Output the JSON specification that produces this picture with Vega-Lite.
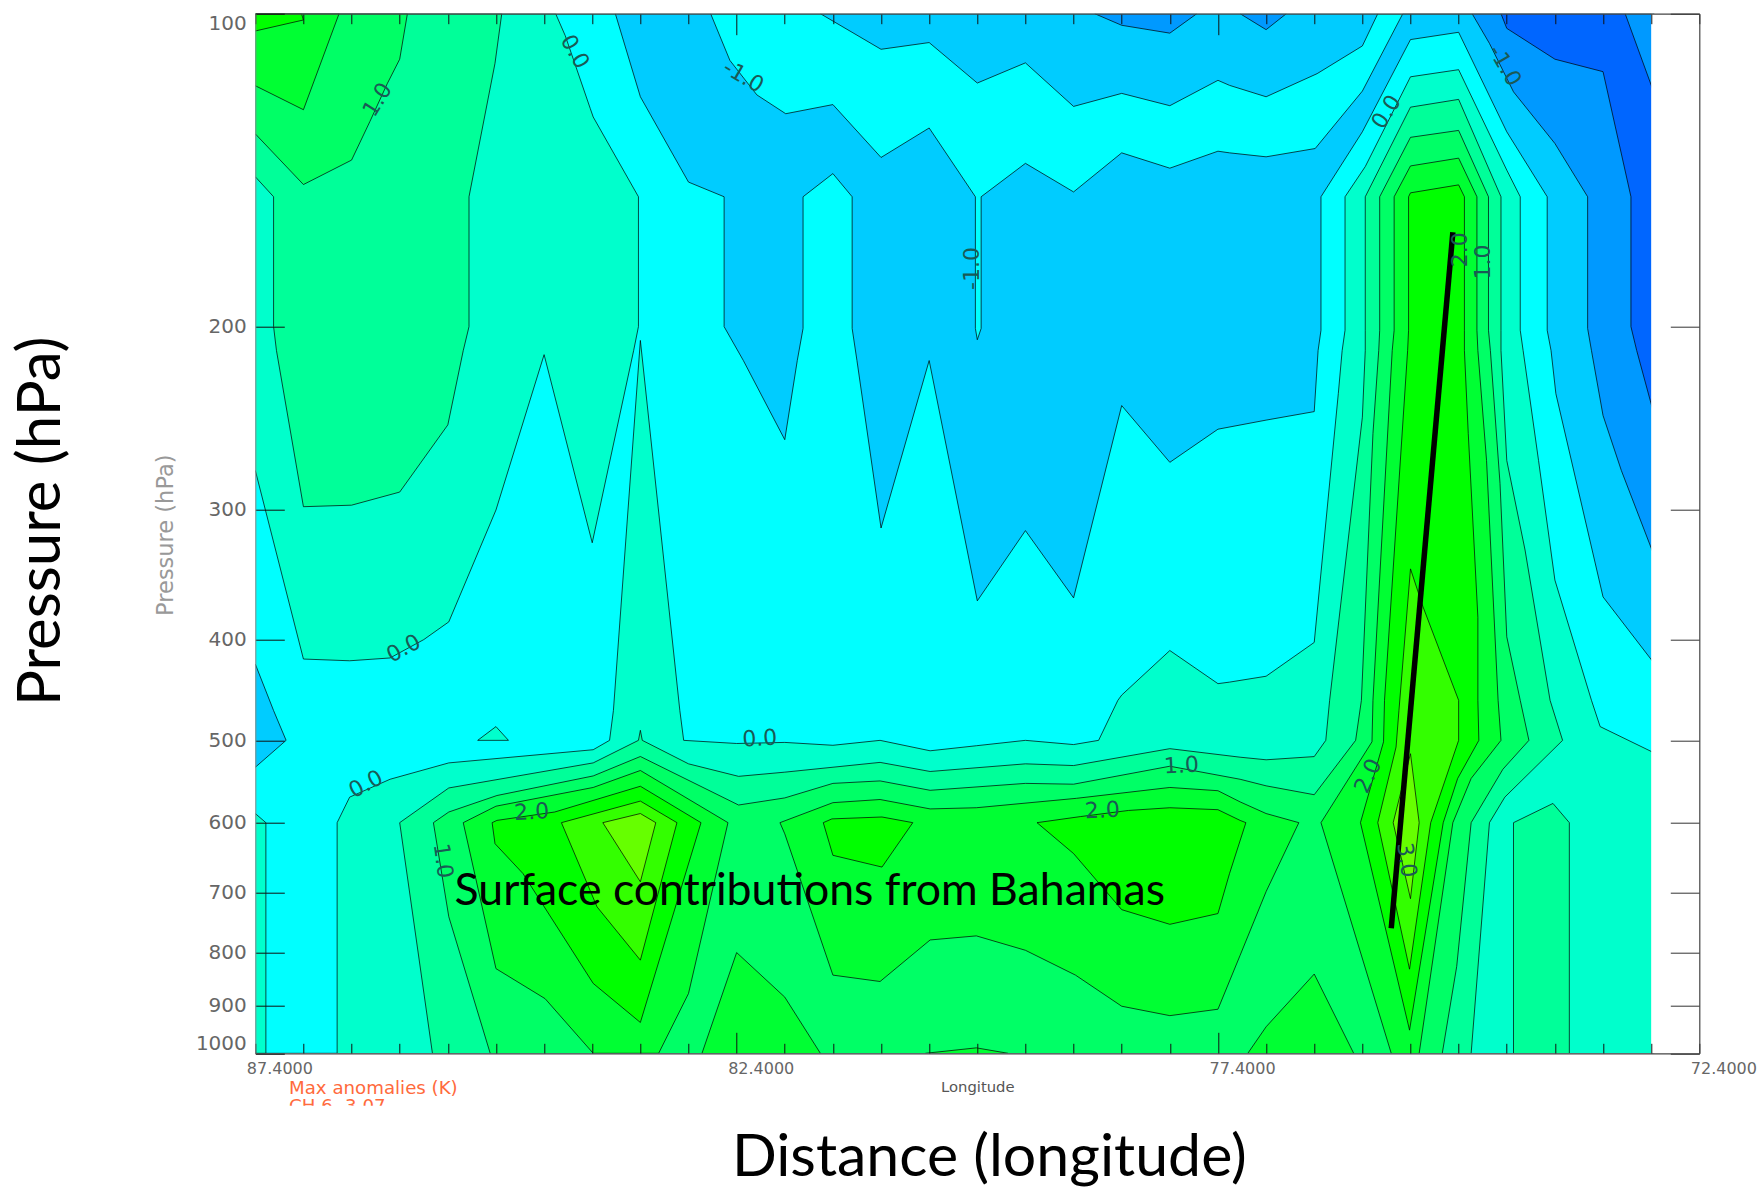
{"$schema":"https://vega.github.io/schema/vega-lite/v6.json","autosize":{"type":"none"},"padding":{"left":255.3,"top":13.7,"right":57.7,"bottom":134.7},"width":1444,"height":1039.6,"background":"white","config":{"view":{"stroke":null}},
"resolve":{"axis":{"x":"independent","y":"independent"}},
"layer":[
{"data":{"values":[
{"poly":1,"band":-0.5,"i":1,"lon":87.4,"p":100},{"poly":1,"band":-0.5,"i":2,"lon":72.87,"p":100},{"poly":1,"band":-0.5,"i":3,"lon":72.87,"p":1000},{"poly":1,"band":-0.5,"i":4,"lon":87.4,"p":1000},
{"poly":2,"band":-1,"i":1,"lon":83.66,"p":100},{"poly":2,"band":-1,"i":2,"lon":83.4,"p":120.2},{"poly":2,"band":-1,"i":3,"lon":82.9,"p":145.2},{"poly":2,"band":-1,"i":4,"lon":82.53,"p":150},{"poly":2,"band":-1,"i":5,"lon":82.53,"p":200},{"poly":2,"band":-1,"i":6,"lon":82.33,"p":215.6},{"poly":2,"band":-1,"i":7,"lon":81.9,"p":256.9},{"poly":2,"band":-1,"i":8,"lon":81.77,"p":215.6},{"poly":2,"band":-1,"i":9,"lon":81.71,"p":200.8},{"poly":2,"band":-1,"i":10,"lon":81.71,"p":150},{"poly":2,"band":-1,"i":11,"lon":81.4,"p":142.5},{"poly":2,"band":-1,"i":12,"lon":81.2,"p":150},{"poly":2,"band":-1,"i":13,"lon":81.2,"p":200.8},{"poly":2,"band":-1,"i":14,"lon":81.15,"p":215.6},{"poly":2,"band":-1,"i":15,"lon":80.9,"p":312.4},{"poly":2,"band":-1,"i":16,"lon":80.4,"p":215.6},{"poly":2,"band":-1,"i":17,"lon":79.9,"p":367.1},{"poly":2,"band":-1,"i":18,"lon":79.4,"p":314.2},{"poly":2,"band":-1,"i":19,"lon":78.9,"p":364.7},{"poly":2,"band":-1,"i":20,"lon":78.4,"p":238.2},{"poly":2,"band":-1,"i":21,"lon":77.9,"p":270.1},{"poly":2,"band":-1,"i":22,"lon":77.4,"p":251},{"poly":2,"band":-1,"i":23,"lon":76.9,"p":246},{"poly":2,"band":-1,"i":24,"lon":76.4,"p":241.4},{"poly":2,"band":-1,"i":25,"lon":76.36,"p":210.9},{"poly":2,"band":-1,"i":26,"lon":76.33,"p":201.6},{"poly":2,"band":-1,"i":27,"lon":76.33,"p":150},{"poly":2,"band":-1,"i":28,"lon":75.9,"p":129.9},{"poly":2,"band":-1,"i":29,"lon":75.4,"p":105.9},{"poly":2,"band":-1,"i":30,"lon":74.9,"p":104.2},{"poly":2,"band":-1,"i":31,"lon":74.4,"p":129.9},{"poly":2,"band":-1,"i":32,"lon":73.98,"p":150},{"poly":2,"band":-1,"i":33,"lon":73.98,"p":201.6},{"poly":2,"band":-1,"i":34,"lon":73.94,"p":210.9},{"poly":2,"band":-1,"i":35,"lon":73.89,"p":232},{"poly":2,"band":-1,"i":36,"lon":73.4,"p":363.9},{"poly":2,"band":-1,"i":37,"lon":72.87,"p":421.5},{"poly":2,"band":-1,"i":38,"lon":72.87,"p":100},{"poly":2,"band":-1,"i":39,"lon":75.48,"p":100},{"poly":2,"band":-1,"i":40,"lon":75.9,"p":118.7},{"poly":2,"band":-1,"i":41,"lon":76.39,"p":134.8},{"poly":2,"band":-1,"i":42,"lon":76.9,"p":137.3},{"poly":2,"band":-1,"i":43,"lon":77.28,"p":136.1},{"poly":2,"band":-1,"i":44,"lon":77.4,"p":135.6},{"poly":2,"band":-1,"i":45,"lon":77.9,"p":140.8},{"poly":2,"band":-1,"i":46,"lon":78.4,"p":136.1},{"poly":2,"band":-1,"i":47,"lon":78.9,"p":148.4},{"poly":2,"band":-1,"i":48,"lon":79.4,"p":139.3},{"poly":2,"band":-1,"i":49,"lon":79.86,"p":150},{"poly":2,"band":-1,"i":50,"lon":79.86,"p":200.8},{"poly":2,"band":-1,"i":51,"lon":79.9,"p":205.9},{"poly":2,"band":-1,"i":52,"lon":79.92,"p":200.8},{"poly":2,"band":-1,"i":53,"lon":79.92,"p":150},{"poly":2,"band":-1,"i":54,"lon":80.4,"p":128.8},{"poly":2,"band":-1,"i":55,"lon":80.9,"p":137.5},{"poly":2,"band":-1,"i":56,"lon":81.4,"p":122.3},{"poly":2,"band":-1,"i":57,"lon":81.89,"p":124.8},{"poly":2,"band":-1,"i":58,"lon":82.19,"p":119.7},{"poly":2,"band":-1,"i":59,"lon":82.47,"p":110.9},{"poly":2,"band":-1,"i":60,"lon":82.67,"p":100},
{"poly":3,"band":-1,"i":1,"lon":81.53,"p":100},{"poly":3,"band":-1,"i":2,"lon":80.9,"p":108.2},{"poly":3,"band":-1,"i":3,"lon":80.4,"p":106.6},{"poly":3,"band":-1,"i":4,"lon":79.9,"p":116.6},{"poly":3,"band":-1,"i":5,"lon":79.4,"p":111.5},{"poly":3,"band":-1,"i":6,"lon":78.9,"p":122.8},{"poly":3,"band":-1,"i":7,"lon":78.4,"p":119.3},{"poly":3,"band":-1,"i":8,"lon":77.9,"p":122.6},{"poly":3,"band":-1,"i":9,"lon":77.4,"p":115.9},{"poly":3,"band":-1,"i":10,"lon":77.28,"p":117.2},{"poly":3,"band":-1,"i":11,"lon":76.9,"p":120.2},{"poly":3,"band":-1,"i":12,"lon":76.37,"p":114.2},{"poly":3,"band":-1,"i":13,"lon":75.9,"p":107.4},{"poly":3,"band":-1,"i":14,"lon":75.74,"p":100},
{"poly":4,"band":-1,"i":1,"lon":87.4,"p":422.3},{"poly":4,"band":-1,"i":2,"lon":87.21,"p":468.1},{"poly":4,"band":-1,"i":3,"lon":87.08,"p":500},{"poly":4,"band":-1,"i":4,"lon":87.4,"p":530.7},
{"poly":5,"band":-1.5,"i":1,"lon":78.68,"p":100},{"poly":5,"band":-1.5,"i":2,"lon":78.4,"p":102.6},{"poly":5,"band":-1.5,"i":3,"lon":77.9,"p":104.4},{"poly":5,"band":-1.5,"i":4,"lon":77.62,"p":100},
{"poly":6,"band":-1.5,"i":1,"lon":77.17,"p":100},{"poly":6,"band":-1.5,"i":2,"lon":76.9,"p":103.6},{"poly":6,"band":-1.5,"i":3,"lon":76.69,"p":100},
{"poly":7,"band":-1.5,"i":1,"lon":74.76,"p":100},{"poly":7,"band":-1.5,"i":2,"lon":74.58,"p":106.8},{"poly":7,"band":-1.5,"i":3,"lon":74.33,"p":118.9},{"poly":7,"band":-1.5,"i":4,"lon":73.9,"p":133.3},{"poly":7,"band":-1.5,"i":5,"lon":73.56,"p":150},{"poly":7,"band":-1.5,"i":6,"lon":73.56,"p":200.8},{"poly":7,"band":-1.5,"i":7,"lon":73.52,"p":210.9},{"poly":7,"band":-1.5,"i":8,"lon":73.4,"p":243.5},{"poly":7,"band":-1.5,"i":9,"lon":73.21,"p":275},{"poly":7,"band":-1.5,"i":10,"lon":72.87,"p":332},{"poly":7,"band":-1.5,"i":11,"lon":72.87,"p":100},
{"poly":8,"band":-2,"i":1,"lon":74.46,"p":100},{"poly":8,"band":-2,"i":2,"lon":74.4,"p":103.3},{"poly":8,"band":-2,"i":3,"lon":73.9,"p":110.6},{"poly":8,"band":-2,"i":4,"lon":73.4,"p":113.7},{"poly":8,"band":-2,"i":5,"lon":73.11,"p":150},{"poly":8,"band":-2,"i":6,"lon":73.11,"p":200},{"poly":8,"band":-2,"i":7,"lon":73.05,"p":210.9},{"poly":8,"band":-2,"i":8,"lon":72.87,"p":243},{"poly":8,"band":-2,"i":9,"lon":72.87,"p":119.2},{"poly":8,"band":-2,"i":10,"lon":73.17,"p":100},
{"poly":9,"band":0,"i":1,"lon":87.4,"p":100},{"poly":9,"band":0,"i":2,"lon":84.28,"p":100},{"poly":9,"band":0,"i":3,"lon":84.18,"p":105},{"poly":9,"band":0,"i":4,"lon":83.92,"p":123.4},{"poly":9,"band":0,"i":5,"lon":83.89,"p":125.7},{"poly":9,"band":0,"i":6,"lon":83.42,"p":150},{"poly":9,"band":0,"i":7,"lon":83.42,"p":200},{"poly":9,"band":0,"i":8,"lon":83.47,"p":210.9},{"poly":9,"band":0,"i":9,"lon":83.9,"p":322.8},{"poly":9,"band":0,"i":10,"lon":84.4,"p":212.8},{"poly":9,"band":0,"i":11,"lon":84.9,"p":300.2},{"poly":9,"band":0,"i":12,"lon":85.39,"p":384.6},{"poly":9,"band":0,"i":13,"lon":85.65,"p":400},{"poly":9,"band":0,"i":14,"lon":86,"p":416.6},{"poly":9,"band":0,"i":15,"lon":86.42,"p":419.2},{"poly":9,"band":0,"i":16,"lon":86.9,"p":417.6},{"poly":9,"band":0,"i":17,"lon":87.4,"p":275},
{"poly":10,"band":0,"i":1,"lon":85.09,"p":500},{"poly":10,"band":0,"i":2,"lon":84.9,"p":485},{"poly":10,"band":0,"i":3,"lon":84.77,"p":500},{"poly":10,"band":0,"i":4,"lon":85.09,"p":500},
{"poly":11,"band":0,"i":1,"lon":87.4,"p":588},{"poly":11,"band":0,"i":2,"lon":87.29,"p":600},{"poly":11,"band":0,"i":3,"lon":87.29,"p":1000},{"poly":11,"band":0,"i":4,"lon":87.4,"p":1000},
{"poly":12,"band":0,"i":1,"lon":86.55,"p":1000},{"poly":12,"band":0,"i":2,"lon":86.55,"p":600},{"poly":12,"band":0,"i":3,"lon":86.42,"p":567},{"poly":12,"band":0,"i":4,"lon":86,"p":545},{"poly":12,"band":0,"i":5,"lon":85.39,"p":525.6},{"poly":12,"band":0,"i":6,"lon":83.89,"p":510.5},{"poly":12,"band":0,"i":7,"lon":83.72,"p":500},{"poly":12,"band":0,"i":8,"lon":83.68,"p":468},{"poly":12,"band":0,"i":9,"lon":83.4,"p":206.2},{"poly":12,"band":0,"i":10,"lon":82.99,"p":468},{"poly":12,"band":0,"i":11,"lon":82.95,"p":500},{"poly":12,"band":0,"i":12,"lon":82.4,"p":503.5},{"poly":12,"band":0,"i":13,"lon":81.9,"p":502.3},{"poly":12,"band":0,"i":14,"lon":81.4,"p":505.5},{"poly":12,"band":0,"i":15,"lon":80.91,"p":500},{"poly":12,"band":0,"i":16,"lon":80.39,"p":511.7},{"poly":12,"band":0,"i":17,"lon":79.91,"p":506},{"poly":12,"band":0,"i":18,"lon":79.4,"p":500},{"poly":12,"band":0,"i":19,"lon":78.9,"p":504.7},{"poly":12,"band":0,"i":20,"lon":78.64,"p":500},{"poly":12,"band":0,"i":21,"lon":78.44,"p":457.6},{"poly":12,"band":0,"i":22,"lon":78.4,"p":452.3},{"poly":12,"band":0,"i":23,"lon":77.9,"p":409.8},{"poly":12,"band":0,"i":24,"lon":77.4,"p":441},{"poly":12,"band":0,"i":25,"lon":77.28,"p":439.5},{"poly":12,"band":0,"i":26,"lon":76.9,"p":433.8},{"poly":12,"band":0,"i":27,"lon":76.4,"p":402.5},{"poly":12,"band":0,"i":28,"lon":76.15,"p":232},{"poly":12,"band":0,"i":29,"lon":76.11,"p":210.9},{"poly":12,"band":0,"i":30,"lon":76.08,"p":201.6},{"poly":12,"band":0,"i":31,"lon":76.08,"p":150},{"poly":12,"band":0,"i":32,"lon":75.87,"p":140.3},{"poly":12,"band":0,"i":33,"lon":75.4,"p":115},{"poly":12,"band":0,"i":34,"lon":74.9,"p":113.2},{"poly":12,"band":0,"i":35,"lon":74.4,"p":141.4},{"poly":12,"band":0,"i":36,"lon":74.26,"p":150},{"poly":12,"band":0,"i":37,"lon":74.26,"p":201.6},{"poly":12,"band":0,"i":38,"lon":74.23,"p":210.9},{"poly":12,"band":0,"i":39,"lon":74.07,"p":269},{"poly":12,"band":0,"i":40,"lon":73.9,"p":350.6},{"poly":12,"band":0,"i":41,"lon":73.52,"p":457.6},{"poly":12,"band":0,"i":42,"lon":73.43,"p":485},{"poly":12,"band":0,"i":43,"lon":72.87,"p":514},{"poly":12,"band":0,"i":44,"lon":72.87,"p":1000},
{"poly":13,"band":0.5,"i":1,"lon":87.4,"p":100},{"poly":13,"band":0.5,"i":2,"lon":84.84,"p":100},{"poly":13,"band":0.5,"i":3,"lon":84.91,"p":111.6},{"poly":13,"band":0.5,"i":4,"lon":85.18,"p":150},{"poly":13,"band":0.5,"i":5,"lon":85.18,"p":200},{"poly":13,"band":0.5,"i":6,"lon":85.24,"p":210.9},{"poly":13,"band":0.5,"i":7,"lon":85.4,"p":248.6},{"poly":13,"band":0.5,"i":8,"lon":85.9,"p":288.5},{"poly":13,"band":0.5,"i":9,"lon":86.4,"p":297},{"poly":13,"band":0.5,"i":10,"lon":86.9,"p":298},{"poly":13,"band":0.5,"i":11,"lon":87.18,"p":210.9},{"poly":13,"band":0.5,"i":12,"lon":87.21,"p":200},{"poly":13,"band":0.5,"i":13,"lon":87.21,"p":150},{"poly":13,"band":0.5,"i":14,"lon":87.4,"p":143.5},
{"poly":14,"band":0.5,"i":1,"lon":85.56,"p":1000},{"poly":14,"band":0.5,"i":2,"lon":85.9,"p":600},{"poly":14,"band":0.5,"i":3,"lon":85.39,"p":555.6},{"poly":14,"band":0.5,"i":4,"lon":83.89,"p":525.6},{"poly":14,"band":0.5,"i":5,"lon":83.42,"p":500},{"poly":14,"band":0.5,"i":6,"lon":83.4,"p":489},{"poly":14,"band":0.5,"i":7,"lon":83.38,"p":500},{"poly":14,"band":0.5,"i":8,"lon":82.9,"p":526.7},{"poly":14,"band":0.5,"i":9,"lon":82.38,"p":541.5},{"poly":14,"band":0.5,"i":10,"lon":81.9,"p":536.5},{"poly":14,"band":0.5,"i":11,"lon":80.91,"p":525},{"poly":14,"band":0.5,"i":12,"lon":80.39,"p":535.7},{"poly":14,"band":0.5,"i":13,"lon":79.4,"p":526.7},{"poly":14,"band":0.5,"i":14,"lon":78.9,"p":528.7},{"poly":14,"band":0.5,"i":15,"lon":77.9,"p":509.3},{"poly":14,"band":0.5,"i":16,"lon":77.17,"p":519},{"poly":14,"band":0.5,"i":17,"lon":76.9,"p":522},{"poly":14,"band":0.5,"i":18,"lon":76.4,"p":518.3},{"poly":14,"band":0.5,"i":19,"lon":76.28,"p":500},{"poly":14,"band":0.5,"i":20,"lon":76.24,"p":457.6},{"poly":14,"band":0.5,"i":21,"lon":75.9,"p":244.4},{"poly":14,"band":0.5,"i":22,"lon":75.87,"p":210.9},{"poly":14,"band":0.5,"i":23,"lon":75.87,"p":201.6},{"poly":14,"band":0.5,"i":24,"lon":75.87,"p":150},{"poly":14,"band":0.5,"i":25,"lon":75.4,"p":123},{"poly":14,"band":0.5,"i":26,"lon":74.9,"p":120.9},{"poly":14,"band":0.5,"i":27,"lon":74.46,"p":150},{"poly":14,"band":0.5,"i":28,"lon":74.46,"p":201.6},{"poly":14,"band":0.5,"i":29,"lon":74.46,"p":210.9},{"poly":14,"band":0.5,"i":30,"lon":74.4,"p":269},{"poly":14,"band":0.5,"i":31,"lon":74.21,"p":328},{"poly":14,"band":0.5,"i":32,"lon":73.95,"p":457.6},{"poly":14,"band":0.5,"i":33,"lon":73.82,"p":500},{"poly":14,"band":0.5,"i":34,"lon":74.42,"p":567},{"poly":14,"band":0.5,"i":35,"lon":74.58,"p":600},{"poly":14,"band":0.5,"i":36,"lon":74.77,"p":1000},
{"poly":15,"band":0.5,"i":1,"lon":74.33,"p":1000},{"poly":15,"band":0.5,"i":2,"lon":74.33,"p":600},{"poly":15,"band":0.5,"i":3,"lon":73.92,"p":575},{"poly":15,"band":0.5,"i":4,"lon":73.75,"p":600},{"poly":15,"band":0.5,"i":5,"lon":73.75,"p":1000},
{"poly":16,"band":1,"i":1,"lon":87.4,"p":100},{"poly":16,"band":1,"i":2,"lon":85.82,"p":100},{"poly":16,"band":1,"i":3,"lon":85.9,"p":110.6},{"poly":16,"band":1,"i":4,"lon":86.03,"p":116.8},{"poly":16,"band":1,"i":5,"lon":86.21,"p":127},{"poly":16,"band":1,"i":6,"lon":86.4,"p":138.3},{"poly":16,"band":1,"i":7,"lon":86.9,"p":146},{"poly":16,"band":1,"i":8,"lon":87.4,"p":130.5},
{"poly":17,"band":1,"i":1,"lon":84.96,"p":1000},{"poly":17,"band":1,"i":2,"lon":85.39,"p":739},{"poly":17,"band":1,"i":3,"lon":85.55,"p":600},{"poly":17,"band":1,"i":4,"lon":85.39,"p":586},{"poly":17,"band":1,"i":5,"lon":84.89,"p":565},{"poly":17,"band":1,"i":6,"lon":83.89,"p":541},{"poly":17,"band":1,"i":7,"lon":83.4,"p":518.2},{"poly":17,"band":1,"i":8,"lon":82.38,"p":577},{"poly":17,"band":1,"i":9,"lon":81.9,"p":568},{"poly":17,"band":1,"i":10,"lon":81.4,"p":550},{"poly":17,"band":1,"i":11,"lon":80.91,"p":547},{"poly":17,"band":1,"i":12,"lon":80.39,"p":558.5},{"poly":17,"band":1,"i":13,"lon":79.4,"p":550},{"poly":17,"band":1,"i":14,"lon":78.9,"p":551},{"poly":17,"band":1,"i":15,"lon":77.9,"p":529.5},{"poly":17,"band":1,"i":16,"lon":77.17,"p":545},{"poly":17,"band":1,"i":17,"lon":76.9,"p":553},{"poly":17,"band":1,"i":18,"lon":76.4,"p":564},{"poly":17,"band":1,"i":19,"lon":75.97,"p":500},{"poly":17,"band":1,"i":20,"lon":75.91,"p":457.6},{"poly":17,"band":1,"i":21,"lon":75.79,"p":253.4},{"poly":17,"band":1,"i":22,"lon":75.73,"p":210.9},{"poly":17,"band":1,"i":23,"lon":75.72,"p":201.6},{"poly":17,"band":1,"i":24,"lon":75.72,"p":150},{"poly":17,"band":1,"i":25,"lon":75.4,"p":131.5},{"poly":17,"band":1,"i":26,"lon":74.9,"p":129.5},{"poly":17,"band":1,"i":27,"lon":74.59,"p":150},{"poly":17,"band":1,"i":28,"lon":74.59,"p":201.6},{"poly":17,"band":1,"i":29,"lon":74.57,"p":210.9},{"poly":17,"band":1,"i":30,"lon":74.47,"p":283},{"poly":17,"band":1,"i":31,"lon":74.4,"p":397.5},{"poly":17,"band":1,"i":32,"lon":74.26,"p":457.6},{"poly":17,"band":1,"i":33,"lon":74.17,"p":500},{"poly":17,"band":1,"i":34,"lon":74.44,"p":533},{"poly":17,"band":1,"i":35,"lon":74.77,"p":600},{"poly":17,"band":1,"i":36,"lon":74.92,"p":825},{"poly":17,"band":1,"i":37,"lon":75.07,"p":1000},
{"poly":18,"band":1.5,"i":1,"lon":87.4,"p":100},{"poly":18,"band":1.5,"i":2,"lon":86.53,"p":100},{"poly":18,"band":1.5,"i":3,"lon":86.9,"p":123.7},{"poly":18,"band":1.5,"i":4,"lon":87.4,"p":117.3},
{"poly":19,"band":1.5,"i":1,"lon":85.24,"p":600},{"poly":19,"band":1.5,"i":2,"lon":84.9,"p":578.5},{"poly":19,"band":1.5,"i":3,"lon":83.89,"p":555},{"poly":19,"band":1.5,"i":4,"lon":83.4,"p":534.5},{"poly":19,"band":1.5,"i":5,"lon":82.49,"p":600},{"poly":19,"band":1.5,"i":6,"lon":82.9,"p":876},{"poly":19,"band":1.5,"i":7,"lon":83.21,"p":1000},{"poly":19,"band":1.5,"i":8,"lon":83.89,"p":1000},{"poly":19,"band":1.5,"i":9,"lon":84.39,"p":886},{"poly":19,"band":1.5,"i":10,"lon":84.9,"p":829},{"poly":19,"band":1.5,"i":11,"lon":85.24,"p":600},
{"poly":20,"band":1.5,"i":1,"lon":82.76,"p":1000},{"poly":20,"band":1.5,"i":2,"lon":82.4,"p":800},{"poly":20,"band":1.5,"i":3,"lon":81.9,"p":883},{"poly":20,"band":1.5,"i":4,"lon":81.53,"p":1000},
{"poly":21,"band":1.5,"i":1,"lon":81.95,"p":600},{"poly":21,"band":1.5,"i":2,"lon":81.4,"p":574},{"poly":21,"band":1.5,"i":3,"lon":80.91,"p":570},{"poly":21,"band":1.5,"i":4,"lon":80.39,"p":582},{"poly":21,"band":1.5,"i":5,"lon":79.91,"p":580.5},{"poly":21,"band":1.5,"i":6,"lon":78.87,"p":568.5},{"poly":21,"band":1.5,"i":7,"lon":77.9,"p":555},{"poly":21,"band":1.5,"i":8,"lon":77.4,"p":559},{"poly":21,"band":1.5,"i":9,"lon":77.17,"p":573},{"poly":21,"band":1.5,"i":10,"lon":76.9,"p":588},{"poly":21,"band":1.5,"i":11,"lon":76.56,"p":600},{"poly":21,"band":1.5,"i":12,"lon":76.9,"p":699},{"poly":21,"band":1.5,"i":13,"lon":77.17,"p":805},{"poly":21,"band":1.5,"i":14,"lon":77.4,"p":907},{"poly":21,"band":1.5,"i":15,"lon":77.9,"p":920},{"poly":21,"band":1.5,"i":16,"lon":78.4,"p":901},{"poly":21,"band":1.5,"i":17,"lon":78.88,"p":841},{"poly":21,"band":1.5,"i":18,"lon":79.4,"p":796},{"poly":21,"band":1.5,"i":19,"lon":79.91,"p":771},{"poly":21,"band":1.5,"i":20,"lon":80.39,"p":778},{"poly":21,"band":1.5,"i":21,"lon":80.91,"p":853},{"poly":21,"band":1.5,"i":22,"lon":81.4,"p":841},{"poly":21,"band":1.5,"i":23,"lon":81.9,"p":615},{"poly":21,"band":1.5,"i":24,"lon":81.95,"p":600},
{"poly":22,"band":1.5,"i":1,"lon":80.44,"p":1000},{"poly":22,"band":1.5,"i":2,"lon":79.91,"p":988},{"poly":22,"band":1.5,"i":3,"lon":79.58,"p":1000},
{"poly":23,"band":1.5,"i":1,"lon":77.09,"p":1000},{"poly":23,"band":1.5,"i":2,"lon":76.9,"p":943},{"poly":23,"band":1.5,"i":3,"lon":76.4,"p":839},{"poly":23,"band":1.5,"i":4,"lon":75.99,"p":1000},
{"poly":24,"band":1.5,"i":1,"lon":75.6,"p":1000},{"poly":24,"band":1.5,"i":2,"lon":76.33,"p":600},{"poly":24,"band":1.5,"i":3,"lon":75.8,"p":501.6},{"poly":24,"band":1.5,"i":4,"lon":75.79,"p":457.6},{"poly":24,"band":1.5,"i":5,"lon":75.59,"p":210.9},{"poly":24,"band":1.5,"i":6,"lon":75.57,"p":201.6},{"poly":24,"band":1.5,"i":7,"lon":75.57,"p":150},{"poly":24,"band":1.5,"i":8,"lon":75.4,"p":140.1},{"poly":24,"band":1.5,"i":9,"lon":74.9,"p":137.7},{"poly":24,"band":1.5,"i":10,"lon":74.71,"p":150},{"poly":24,"band":1.5,"i":11,"lon":74.71,"p":201.6},{"poly":24,"band":1.5,"i":12,"lon":74.7,"p":210.9},{"poly":24,"band":1.5,"i":13,"lon":74.61,"p":269},{"poly":24,"band":1.5,"i":14,"lon":74.49,"p":457.6},{"poly":24,"band":1.5,"i":15,"lon":74.46,"p":500},{"poly":24,"band":1.5,"i":16,"lon":74.77,"p":544},{"poly":24,"band":1.5,"i":17,"lon":74.96,"p":600},{"poly":24,"band":1.5,"i":18,"lon":75.31,"p":1000},
{"poly":25,"band":2,"i":1,"lon":87.4,"p":100},{"poly":25,"band":2,"i":2,"lon":86.92,"p":100},{"poly":25,"band":2,"i":3,"lon":86.9,"p":101.4},{"poly":25,"band":2,"i":4,"lon":87.4,"p":103.9},
{"poly":26,"band":2,"i":1,"lon":84.94,"p":600},{"poly":26,"band":2,"i":2,"lon":84.89,"p":597},{"poly":26,"band":2,"i":3,"lon":84.29,"p":586},{"poly":26,"band":2,"i":4,"lon":83.4,"p":553.5},{"poly":26,"band":2,"i":5,"lon":82.77,"p":600},{"poly":26,"band":2,"i":6,"lon":83.4,"p":934},{"poly":26,"band":2,"i":7,"lon":83.89,"p":856.6},{"poly":26,"band":2,"i":8,"lon":84.62,"p":671.5},{"poly":26,"band":2,"i":9,"lon":84.91,"p":628.6},{"poly":26,"band":2,"i":10,"lon":84.94,"p":600},
{"poly":27,"band":2,"i":1,"lon":81.5,"p":600},{"poly":27,"band":2,"i":2,"lon":81.41,"p":595},{"poly":27,"band":2,"i":3,"lon":80.89,"p":592.5},{"poly":27,"band":2,"i":4,"lon":80.57,"p":600},{"poly":27,"band":2,"i":5,"lon":80.89,"p":662},{"poly":27,"band":2,"i":6,"lon":81.4,"p":645},{"poly":27,"band":2,"i":7,"lon":81.5,"p":600},
{"poly":28,"band":2,"i":1,"lon":79.28,"p":600},{"poly":28,"band":2,"i":2,"lon":78.83,"p":592},{"poly":28,"band":2,"i":3,"lon":78.33,"p":584},{"poly":28,"band":2,"i":4,"lon":77.9,"p":580.5},{"poly":28,"band":2,"i":5,"lon":77.4,"p":583},{"poly":28,"band":2,"i":6,"lon":77.17,"p":597},{"poly":28,"band":2,"i":7,"lon":77.11,"p":600},{"poly":28,"band":2,"i":8,"lon":77.28,"p":671.6},{"poly":28,"band":2,"i":9,"lon":77.4,"p":733.8},{"poly":28,"band":2,"i":10,"lon":77.9,"p":751.5},{"poly":28,"band":2,"i":11,"lon":78.4,"p":727.5},{"poly":28,"band":2,"i":12,"lon":78.9,"p":642.5},{"poly":28,"band":2,"i":13,"lon":79.28,"p":600},
{"poly":29,"band":2,"i":1,"lon":75.41,"p":950},{"poly":29,"band":2,"i":2,"lon":75.92,"p":600},{"poly":29,"band":2,"i":3,"lon":75.68,"p":501.6},{"poly":29,"band":2,"i":4,"lon":75.67,"p":457.6},{"poly":29,"band":2,"i":5,"lon":75.43,"p":210.9},{"poly":29,"band":2,"i":6,"lon":75.42,"p":201.6},{"poly":29,"band":2,"i":7,"lon":75.42,"p":150},{"poly":29,"band":2,"i":8,"lon":75.4,"p":148.7},{"poly":29,"band":2,"i":9,"lon":74.9,"p":146.1},{"poly":29,"band":2,"i":10,"lon":74.84,"p":150},{"poly":29,"band":2,"i":11,"lon":74.84,"p":201.6},{"poly":29,"band":2,"i":12,"lon":74.84,"p":210.9},{"poly":29,"band":2,"i":13,"lon":74.8,"p":253.4},{"poly":29,"band":2,"i":14,"lon":74.7,"p":380.7},{"poly":29,"band":2,"i":15,"lon":74.7,"p":457.6},{"poly":29,"band":2,"i":16,"lon":74.69,"p":500},{"poly":29,"band":2,"i":17,"lon":74.91,"p":544},{"poly":29,"band":2,"i":18,"lon":75.06,"p":600},{"poly":29,"band":2,"i":19,"lon":75.41,"p":950},
{"poly":30,"band":2.5,"i":1,"lon":84.22,"p":600},{"poly":30,"band":2.5,"i":2,"lon":83.4,"p":572},{"poly":30,"band":2.5,"i":3,"lon":83.02,"p":600},{"poly":30,"band":2.5,"i":4,"lon":83.4,"p":813.6},{"poly":30,"band":2.5,"i":5,"lon":83.85,"p":723},{"poly":30,"band":2.5,"i":6,"lon":84.22,"p":600},
{"poly":31,"band":2.5,"i":1,"lon":75.4,"p":342},{"poly":31,"band":2.5,"i":2,"lon":75.27,"p":372},{"poly":31,"band":2.5,"i":3,"lon":74.9,"p":457.6},{"poly":31,"band":2.5,"i":4,"lon":74.9,"p":500},{"poly":31,"band":2.5,"i":5,"lon":75.19,"p":600},{"poly":31,"band":2.5,"i":6,"lon":75.41,"p":830},{"poly":31,"band":2.5,"i":7,"lon":75.74,"p":600},{"poly":31,"band":2.5,"i":8,"lon":75.55,"p":507.5},{"poly":31,"band":2.5,"i":9,"lon":75.52,"p":468},{"poly":31,"band":2.5,"i":10,"lon":75.4,"p":342},
{"poly":32,"band":3,"i":1,"lon":83.79,"p":600},{"poly":32,"band":3,"i":2,"lon":83.4,"p":588},{"poly":32,"band":3,"i":3,"lon":83.24,"p":600},{"poly":32,"band":3,"i":4,"lon":83.4,"p":684},{"poly":32,"band":3,"i":5,"lon":83.79,"p":600},
{"poly":33,"band":3,"i":1,"lon":75.4,"p":515},{"poly":33,"band":3,"i":2,"lon":75.31,"p":600},{"poly":33,"band":3,"i":3,"lon":75.4,"p":710},{"poly":33,"band":3,"i":4,"lon":75.58,"p":600},{"poly":33,"band":3,"i":5,"lon":75.4,"p":515}
]},
"mark":{"type":"line","clip":true,"stroke":"#000","strokeWidth":1,"strokeOpacity":0.7},
"encoding":{
"x":{"field":"lon","type":"quantitative","scale":{"domain":[87.4,72.4],"nice":false,"zero":false},
"axis":{"orient":"bottom","values":[87.4,82.4,77.4,72.4],"format":".4f","ticks":false,"domain":false,"grid":false,"labelFont":"DejaVu Sans","labelFontSize":16,"labelColor":"#666","labelPadding":7,"labelAlign":"left","labelOffset":-9,"labelOverlap":false,"labelFlush":false,"labelBound":false,"title":"Longitude","titleFont":"DejaVu Sans","titleFontSize":14.8,"titleFontWeight":"normal","titleColor":"#555","titleX":722,"titleY":34,"titleBaseline":"middle","titleAlign":"center"}},
"y":{"field":"p","type":"quantitative","scale":{"type":"log","domain":[100,1000],"reverse":true,"nice":false},
"axis":{"orient":"left","values":[100,200,300,400,500,600,700,800,900,1000],"format":"d","ticks":false,"domain":false,"grid":false,"labelFont":"DejaVu Sans","labelFontSize":20,"labelColor":"#666","labelPadding":9,"labelOverlap":false,"labelFlush":true,"title":"Pressure (hPa)","titleFont":"DejaVu Sans","titleFontSize":22.5,"titleFontWeight":"normal","titleColor":"#999","titleX":-90,"titleY":521,"titleAngle":-90,"titleBaseline":"middle","titleAlign":"center"}},
"detail":{"field":"poly","type":"nominal"},
"order":{"field":"i","type":"quantitative"},
"fill":{"field":"band","type":"ordinal","legend":null,"scale":{"domain":[-2,-1.5,-1,-0.5,0,0.5,1,1.5,2,2.5,3],"range":["#0066ff","#0099ff","#00ccff","#00ffff","#00ffcc","#00ff99","#00ff66","#00ff33","#00ff00","#33ff00","#66ff00"]}}
}},
{"data":{"values":[{"lon0":72.9,"lon1":72.4,"p0":100,"p1":1000}]},
"mark":{"type":"rect","fill":"white"},
"encoding":{
"x":{"field":"lon0","type":"quantitative","scale":{"domain":[87.4,72.4],"nice":false,"zero":false},
"axis":{"orient":"bottom","zindex":1,"values":[87.4,86.9,86.4,85.9,85.4,84.9,84.4,83.9,83.4,82.9,82.4,81.9,81.4,80.9,80.4,79.9,79.4,78.9,78.4,77.9,77.4,76.9,76.4,75.9,75.4,74.9,74.4,73.9,73.4,72.9,72.4],"labels":false,"grid":false,"domainColor":"#444","domainWidth":1.2,"tickColor":"#111","tickWidth":1,"tickSize":{"condition":{"test":"datum.value==82.4||datum.value==77.4","value":-21},"value":-10},"title":"Distance (longitude)","titleFont":"Lato","titleFontSize":59,"titleFontWeight":"normal","titleColor":"#000","titleX":733.5,"titleY":122,"titleBaseline":"alphabetic","titleAlign":"center"}},
"x2":{"field":"lon1"},
"y":{"field":"p0","type":"quantitative","scale":{"type":"log","domain":[100,1000],"reverse":true,"nice":false},
"axis":{"orient":"left","zindex":1,"values":[100,200,300,400,500,600,700,800,900,1000],"labels":false,"grid":false,"domainColor":"#888","domainWidth":1,"tickColor":"#111","tickWidth":1,"tickSize":-29,"title":"Pressure (hPa)","titleFont":"Lato","titleFontSize":60,"titleFontWeight":"normal","titleColor":"#000","titleX":-196,"titleY":507,"titleAngle":-90,"titleBaseline":"alphabetic","titleAlign":"center"}},
"y2":{"field":"p1"}
}},
{"data":{"values":[{"lon":74.96,"p":162.3,"i":1},{"lon":75.6,"p":758,"i":2}]},
"mark":{"type":"line","color":"#000","strokeWidth":5.5},
"encoding":{
"x":{"field":"lon","type":"quantitative","scale":{"domain":[87.4,72.4],"nice":false,"zero":false},
"axis":{"orient":"top","zindex":1,"values":[87.4,86.9,86.4,85.9,85.4,84.9,84.4,83.9,83.4,82.9,82.4,81.9,81.4,80.9,80.4,79.9,79.4,78.9,78.4,77.9,77.4,76.9,76.4,75.9,75.4,74.9,74.4,73.9,73.4,72.9,72.4],"labels":false,"grid":false,"title":null,"domainColor":"#444","domainWidth":1.2,"tickColor":"#111","tickWidth":1,"tickSize":{"condition":{"test":"datum.value==82.4||datum.value==77.4","value":-21},"value":-10}}},
"y":{"field":"p","type":"quantitative","scale":{"type":"log","domain":[100,1000],"reverse":true,"nice":false},
"axis":{"orient":"right","zindex":1,"values":[100,200,300,400,500,600,700,800,900,1000],"labels":false,"grid":false,"title":null,"domainColor":"#444","domainWidth":1.2,"tickColor":"#333","tickWidth":1,"tickSize":-29}},
"order":{"field":"i","type":"quantitative"}
}},
{"data":{"values":[{"lon":85.33,"p":720,"text":"Surface contributions from Bahamas"}]},"mark":{"type":"text","font":"Lato","fontSize":44.6,"color":"#000","align":"left","baseline":"alphabetic"},"encoding":{"x":{"field":"lon","type":"quantitative","axis":null},"y":{"field":"p","type":"quantitative","axis":null},"text":{"field":"text"}}},
{"data":{"values":[{"lon":87.05,"p":1083,"text":"Max anomalies (K)"},{"lon":87.05,"p":1127,"text":"CH 6 -3.07"}]},"mark":{"type":"text","font":"DejaVu Sans","fontSize":18.2,"color":"#ff6a3c","align":"left","baseline":"middle"},"encoding":{"x":{"field":"lon","type":"quantitative","axis":null},"y":{"field":"p","type":"quantitative","axis":null},"text":{"field":"text"}}},
{"data":{"values":[{"lon0":87.4,"lon1":85,"p0":1123,"p1":1170}]},"mark":{"type":"rect","fill":"white"},"encoding":{"x":{"field":"lon0","type":"quantitative","axis":null},"x2":{"field":"lon1"},"y":{"field":"p0","type":"quantitative","axis":null},"y2":{"field":"p1"}}},
{"data":{"values":[{"lon":86.13,"p":121,"text":"1.0"},{"lon":75.65,"p":124.3,"text":"0.0"}]},"mark":{"type":"text","font":"DejaVu Sans","fontWeight":"normal","fontSize":22,"color":"#1a5a55","angle":-58},"encoding":{"x":{"field":"lon","type":"quantitative","axis":null},"y":{"field":"p","type":"quantitative","axis":null},"text":{"field":"text"}}},
{"data":{"values":[{"lon":84.08,"p":108.8,"text":"0.0"},{"lon":74.42,"p":112.2,"text":"-1.0"}]},"mark":{"type":"text","font":"DejaVu Sans","fontSize":22,"color":"#1a5a55","angle":60},"encoding":{"x":{"field":"lon","type":"quantitative","axis":null},"y":{"field":"p","type":"quantitative","axis":null},"text":{"field":"text"}}},
{"data":{"values":[{"lon":82.33,"p":114.9,"text":"-1.0"}]},"mark":{"type":"text","font":"DejaVu Sans","fontSize":22,"color":"#1a5a55","angle":30},"encoding":{"x":{"field":"lon","type":"quantitative","axis":null},"y":{"field":"p","type":"quantitative","axis":null},"text":{"field":"text"}}},
{"data":{"values":[{"lon":79.96,"p":175.8,"text":"-1.0"},{"lon":74.89,"p":168.7,"text":"2.0"},{"lon":74.65,"p":173.3,"text":"1.0"}]},"mark":{"type":"text","font":"DejaVu Sans","fontSize":22,"color":"#1a5a55","angle":-90},"encoding":{"x":{"field":"lon","type":"quantitative","axis":null},"y":{"field":"p","type":"quantitative","axis":null},"text":{"field":"text"}}},
{"data":{"values":[{"lon":85.86,"p":408,"text":"0.0"},{"lon":86.25,"p":551,"text":"0.0"}]},"mark":{"type":"text","font":"DejaVu Sans","fontSize":22,"color":"#1a5a55","angle":-28},"encoding":{"x":{"field":"lon","type":"quantitative","axis":null},"y":{"field":"p","type":"quantitative","axis":null},"text":{"field":"text"}}},
{"data":{"values":[{"lon":84.53,"p":586,"text":"2.0"},{"lon":78.6,"p":584,"text":"2.0"},{"lon":82.16,"p":498,"text":"0.0"},{"lon":77.78,"p":528.7,"text":"1.0"}]},"mark":{"type":"text","font":"DejaVu Sans","fontSize":22,"color":"#1a5a55","angle":-3},"encoding":{"x":{"field":"lon","type":"quantitative","axis":null},"y":{"field":"p","type":"quantitative","axis":null},"text":{"field":"text"}}},
{"data":{"values":[{"lon":85.45,"p":653,"text":"1.0"},{"lon":75.44,"p":652,"text":"3.0"}]},"mark":{"type":"text","font":"DejaVu Sans","fontSize":22,"color":"#1a5a55","angle":82},"encoding":{"x":{"field":"lon","type":"quantitative","axis":null},"y":{"field":"p","type":"quantitative","axis":null},"text":{"field":"text"}}},
{"data":{"values":[{"lon":75.84,"p":541,"text":"2.0"}]},"mark":{"type":"text","font":"DejaVu Sans","fontSize":22,"color":"#1a5a55","angle":-65},"encoding":{"x":{"field":"lon","type":"quantitative","axis":null},"y":{"field":"p","type":"quantitative","axis":null},"text":{"field":"text"}}}
]}
